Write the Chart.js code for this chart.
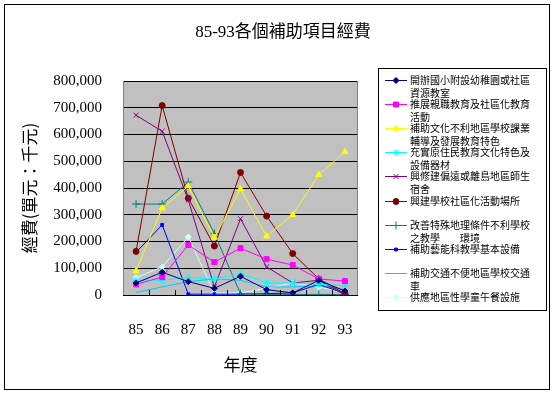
<!DOCTYPE html>
<html>
<head>
<meta charset="utf-8">
<script src="https://cdn.jsdelivr.net/npm/chart.js"></script>
<style>
  html, body { margin: 0; padding: 0; background: #fff; }
  canvas { display: block; }
</style>
</head>
<body>
<canvas id="chart" width="554" height="395"></canvas>
<script>
// years on the x axis
const years = ["85", "86", "87", "88", "89", "90", "91", "92", "93"];

// series (unit: thousand NTD)
const kindergarten = [45000, 85000, 50000, 25000, 70000, 20000, 8000, 55000, 15000];
const parentingEdu = [40000, 67000, 187000, 123000, 175000, 134000, 112000, 60000, 52000];
const culturalAid = [90000, 325000, 407000, 215000, 396000, 220000, 300000, 450000, 535000];
const indigenousEdu = [55000, 55000, 65000, 60000, 80000, 45000, 45000, 40000, 35000];
const dormitory = [672000, 612000, 355000, 30000, 285000, 105000, 45000, 55000, 0];
const activityVenue = [163000, 708000, 362000, 183000, 458000, 295000, 155000, 60000, 5000];
const remoteSchools = [340000, 340000, 422000, 230000, 5000, 2000, 2000, 2000, 2000];
const artsEquipment = [160000, 262000, 3000, 3000, 3000, 5000, 8000, 40000, 5000];
const schoolBus = [10000, 30000, 50000, 60000, 55000, 30000, 30000, 35000, 20000];
const lunchFacility = [65000, 105000, 217000, 7000, 8000, 25000, 45000, 30000, 7000];

const chartTitle = "85-93各個補助項目經費";
const seriesNames = [
  "開辦國小附設幼稚園或社區資源教室",
  "推展親職教育及社區化教育活動",
  "補助文化不利地區學校課業輔導及發展教育特色",
  "充實原住民教育文化特色及設備器材",
  "興修建偏遠或離島地區師生宿舍",
  "興建學校社區化活動場所",
  "改善特殊地理條件不利學校之教學　　環境",
  "補助藝能科教學基本設備",
  "補助交通不便地區學校交通車",
  "供應地區性學童午餐設施"
];
const seriesValues = [kindergarten, parentingEdu, culturalAid, indigenousEdu, dormitory,
  activityVenue, remoteSchools, artsEquipment, schoolBus, lunchFacility];
const seriesColors = ["#000080", "#FF00FF", "#FFFF00", "#00FFFF", "#800080",
  "#800000", "#008080", "#0000FF", "#00CCFF", "#CCFFFF"];
const seriesMarkers = ["rectRot", "rect", "triangle", "star", "crossRot",
  "circle", "cross", "rect", "line", "rectRot"];
const markerSizes = [3, 3.5, 3.5, 3.5, 3.5, 3, 4, 2, 0, 3];

const CJK = '"Noto Sans CJK TC", "Noto Sans CJK SC", sans-serif';
const SERIF = '"Liberation Serif", "DejaVu Serif", serif';
const MIXED = '"Liberation Serif", "Noto Sans CJK TC", serif';

const frame = {
  id: "frame",
  beforeDraw(chart) {
    const { ctx, chartArea: a } = chart;
    ctx.save();
    ctx.fillStyle = "#fff";
    ctx.fillRect(0, 0, chart.width, chart.height);
    ctx.strokeStyle = "#000";
    ctx.lineWidth = 1;
    ctx.strokeRect(4.5, 4.5, 545, 385);
    ctx.fillStyle = "#C0C0C0";
    ctx.fillRect(a.left, a.top, a.right - a.left, a.bottom - a.top);
    ctx.fillStyle = "#000";
    ctx.font = "17px " + MIXED;
    ctx.textAlign = "center";
    ctx.textBaseline = "middle";
    ctx.fillText(chartTitle, 283, 33);
    ctx.restore();
  },
  afterDatasetsDraw(chart) {
    const { ctx, chartArea: a } = chart;
    ctx.save();
    ctx.strokeStyle = "#808080";
    ctx.lineWidth = 1;
    ctx.beginPath();
    ctx.moveTo(a.left + 0.5, a.top);
    ctx.lineTo(a.left + 0.5, a.bottom);
    ctx.moveTo(a.right - 0.5, a.top);
    ctx.lineTo(a.right - 0.5, a.bottom);
    ctx.stroke();
    // small category ticks on the x axis
    const x = chart.scales.x;
    ctx.strokeStyle = "#000";
    ctx.beginPath();
    for (let i = 1; i < years.length; i++) {
      const px = Math.round((x.getPixelForTick(i - 1) + x.getPixelForTick(i)) / 2) + 0.5;
      ctx.moveTo(px, a.bottom);
      ctx.lineTo(px, a.bottom - 5);
    }
    ctx.stroke();
    ctx.restore();
  },
  afterDraw(chart) {
    const ctx = chart.ctx;
    ctx.save();
    ctx.fillStyle = "#fff";
    ctx.fillRect(378, 68, 168, 242);
    ctx.strokeStyle = "#000";
    ctx.lineWidth = 1;
    ctx.strokeRect(378.5, 68.5, 168, 242);
    ctx.font = "10px " + CJK;
    ctx.textBaseline = "middle";
    chart.data.datasets.forEach((ds, i) => {
      const y = Math.round(80 + i * 24.1) + 0.5;
      ctx.strokeStyle = ds.borderColor;
      ctx.lineWidth = 1;
      ctx.beginPath();
      ctx.moveTo(385, y);
      ctx.lineTo(407, y);
      ctx.stroke();
      if (ds.pointRadius > 0 && Chart.helpers && Chart.helpers.drawPoint) {
        ctx.fillStyle = ds.borderColor;
        Chart.helpers.drawPoint(ctx, {
          pointStyle: ds.pointStyle, radius: ds.pointRadius, rotation: 0, borderWidth: 1
        }, 396, y);
      }
      ctx.fillStyle = "#000";
      const name = seriesNames[i];
      ctx.fillText(name.slice(0, 12), 410, y);
      if (name.length > 12) ctx.fillText(name.slice(12), 410, y + 13);
    });
    ctx.restore();
  }
};

new Chart(document.getElementById("chart"), {
  type: "line",
  data: {
    labels: years,
    datasets: seriesValues.map((vals, i) => ({
      label: seriesNames[i],
      data: vals,
      borderColor: seriesColors[i],
      backgroundColor: seriesColors[i],
      pointBackgroundColor: seriesColors[i],
      pointBorderColor: seriesColors[i],
      borderWidth: 1,
      pointBorderWidth: 1,
      pointStyle: seriesMarkers[i],
      pointRadius: markerSizes[i],
      tension: 0,
      fill: false
    }))
  },
  options: {
    responsive: false,
    animation: false,
    devicePixelRatio: 1,
    layout: { padding: { left: 12, top: 81, right: 196, bottom: 20 } },
    plugins: {
      legend: { display: false },
      tooltip: { enabled: false },
      title: { display: false }
    },
    scales: {
      x: {
        offset: true,
        grid: { display: false },
        border: { display: false },
        ticks: { color: "#000", font: { family: SERIF, size: 15 }, padding: 18, maxRotation: 0 },
        title: {
          display: true, text: "年度", color: "#000",
          font: { family: CJK, size: 17 }, padding: { top: 0, bottom: 0 }
        },
        afterFit(scale) { scale.height = 80; }
      },
      y: {
        min: 0, max: 800000,
        grid: { color: "#000", lineWidth: 1, drawTicks: false },
        border: { display: false },
        ticks: {
          stepSize: 100000, color: "#000", padding: 21,
          font: { family: SERIF, size: 15 },
          callback: v => v.toLocaleString("en-US")
        },
        title: {
          display: true, text: "經費(單元：千元)", color: "#000",
          font: { family: CJK, size: 17 }, padding: { top: 7, bottom: 0 }
        },
        afterFit(scale) { scale.width = 111; }
      }
    }
  },
  plugins: [frame]
});
</script>
</body>
</html>
